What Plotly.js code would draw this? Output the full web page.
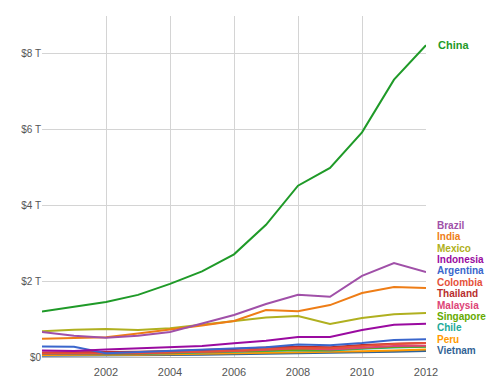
<!DOCTYPE html>
<html>
<head>
<meta charset="utf-8">
<script src="https://cdn.plot.ly/plotly-3.0.1.min.js"></script>
<style>html,body{margin:0;padding:0;background:#fff;}#chart{width:500px;height:380px;}</style>
</head>
<body>
<div id="chart"></div>
<script>
const years = [2000,2001,2002,2003,2004,2005,2006,2007,2008,2009,2010,2011,2012];
const countries = ["China","Brazil","India","Mexico","Indonesia","Argentina","Colombia","Thailand","Malaysia","Singapore","Chile","Peru","Vietnam"];
const colors = ["#1f9a28","#a050a8","#ee7d16","#b0b020","#9a0aa0","#3a66cc","#e5503a","#b82e2e","#dd4477","#66aa00","#22aa99","#ff9900","#316395"];
// GDP in trillions of USD
const china     = [1.20,1.33,1.45,1.64,1.93,2.26,2.71,3.49,4.52,4.99,5.93,7.32,8.23];
const brazil    = [0.66,0.56,0.51,0.56,0.66,0.89,1.11,1.40,1.64,1.59,2.14,2.48,2.24];
const india     = [0.48,0.49,0.52,0.62,0.72,0.83,0.95,1.24,1.21,1.37,1.69,1.85,1.82];
const mexico    = [0.68,0.72,0.74,0.71,0.76,0.85,0.95,1.04,1.08,0.87,1.03,1.13,1.16];
const indonesia = [0.17,0.16,0.20,0.23,0.26,0.29,0.36,0.43,0.53,0.53,0.71,0.85,0.88];
const argentina = [0.28,0.27,0.10,0.13,0.15,0.18,0.21,0.26,0.33,0.31,0.37,0.45,0.47];
const colombia  = [0.10,0.10,0.10,0.09,0.12,0.15,0.16,0.21,0.24,0.23,0.29,0.34,0.37];
const thailand  = [0.12,0.12,0.13,0.14,0.16,0.18,0.21,0.25,0.27,0.26,0.32,0.35,0.37];
const malaysia  = [0.09,0.09,0.10,0.11,0.12,0.14,0.16,0.19,0.23,0.20,0.25,0.29,0.30];
const singapore = [0.09,0.09,0.09,0.09,0.11,0.13,0.15,0.18,0.19,0.19,0.24,0.27,0.28];
const chile     = [0.08,0.07,0.07,0.08,0.10,0.12,0.15,0.17,0.18,0.17,0.22,0.25,0.27];
const peru      = [0.05,0.05,0.06,0.06,0.07,0.08,0.09,0.10,0.12,0.12,0.15,0.17,0.20];
const vietnam   = [0.03,0.03,0.04,0.04,0.05,0.06,0.07,0.08,0.10,0.11,0.12,0.14,0.16];
const series = [china,brazil,india,mexico,indonesia,argentina,colombia,thailand,malaysia,singapore,chile,peru,vietnam];

const yTickVals = [0,2,4,6,8];
const yTickText = ["$0","$2 T","$4 T","$6 T","$8 T"];
const xTickVals = [2002,2004,2006,2008,2010,2012];

const traces = [];
for (let i = series.length - 1; i >= 0; i--) {
  traces.push({
    x: years, y: series[i], type: "scatter", mode: "lines",
    name: countries[i], line: {color: colors[i], width: 2},
    hoverinfo: "skip"
  });
}

const labelFont = (c, s) => ({family: "Liberation Sans, Arial, sans-serif", size: s, color: c, weight: "bold"});
const annotations = [];
annotations.push({
  x: 1, xref: "paper", xanchor: "left", xshift: 10,
  y: china[china.length-1], yref: "y", yanchor: "middle",
  text: "China", showarrow: false, font: labelFont(colors[0], 11)
});
// stacked labels for the other countries
const labelAnchor = 3.475, labelGap = 11.4;
for (let i = 1; i < countries.length; i++) {
  annotations.push({
    x: 1, xref: "paper", xanchor: "left", xshift: 10,
    y: labelAnchor, yref: "y", yanchor: "middle", yshift: -(i-1)*labelGap,
    borderpad: 0,
    text: countries[i], showarrow: false, font: labelFont(colors[i], 10)
  });
}

const layout = {
  width: 500, height: 380,
  margin: {l: 42, r: 74, t: 16, b: 23},
  paper_bgcolor: "#fff", plot_bgcolor: "#fff",
  showlegend: false,
  font: {family: "Liberation Sans, Arial, sans-serif", size: 10, color: "#555"},
  xaxis: {
    range: [2000, 2012], tickvals: xTickVals, ticktext: xTickVals.map(String),
    showgrid: true, gridcolor: "#d4d4d4", gridwidth: 1,
    zeroline: false, showline: false, ticks: "", ticklen: 0,
    ticklabelstandoff: 7,
    tickfont: {size: 11, color: "#555"}
  },
  yaxis: {
    range: [0, 9], tickvals: yTickVals, ticktext: yTickText,
    showgrid: true, gridcolor: "#d4d4d4", gridwidth: 1,
    zeroline: true, zerolinecolor: "#bbb", zerolinewidth: 1,
    showline: false, ticks: "", ticklen: 0,
    tickfont: {size: 10, color: "#555"}
  },
  annotations: annotations
};

Plotly.newPlot("chart", traces, layout, {displayModeBar: false, staticPlot: true});
</script>
</body>
</html>
